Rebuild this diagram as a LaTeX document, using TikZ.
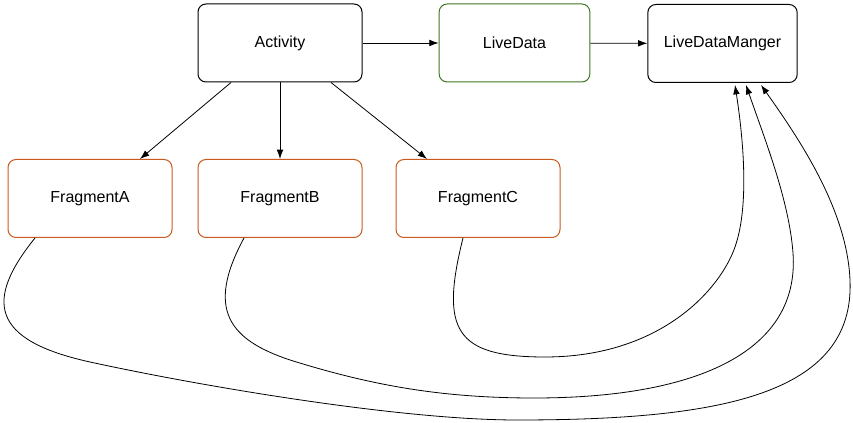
\documentclass[tikz,border=0pt]{standalone}
\usepackage{fontspec}
\setmainfont{Liberation Sans}
\usetikzlibrary{arrows.meta,calc}

\definecolor{fragorange}{RGB}{200,90,30}
\definecolor{datagreen}{RGB}{62,120,32}

\begin{document}
\begin{tikzpicture}[x=0.75pt,y=-0.75pt,
        box/.style={draw, rounded corners=6pt, line width=0.75pt,
            minimum width=123pt, minimum height=58.5pt,
            font=\fontsize{12}{14}\selectfont},
        link/.style={-{Latex[length=7pt,width=5pt]}, line width=0.6pt}]
        \useasboundingbox (0,0) rectangle (853,423);

        % top row
        \node[box] (activity) at (280,43) {Activity};
        \node[box, draw=datagreen, minimum width=113pt] (livedata) at (514.5,43) {LiveData};
        \node[box, minimum width=112pt] (manager) at (722.5,43.5) {LiveDataManger};

        % fragments
        \node[box, draw=fragorange] (fragA) at (90,198.5) {FragmentA};
        \node[box, draw=fragorange] (fragB) at (280,198.5) {FragmentB};
        \node[box, draw=fragorange] (fragC) at (478,198.5) {FragmentC};

        % straight arrows
        \draw[link] (activity) -- (livedata);
        \draw[link] (livedata) -- (manager);
        \draw[link] ($(activity.south)+(-49,0)$) -- ($(fragA.north)+(50,0)$);
        \draw[link] (activity.south) -- (fragB.north);
        \draw[link] ($(activity.south)+(51,0)$) -- ($(fragC.north)+(-51,0)$);

        % curved arrows back to the manager
        \coordinate (outA) at ($(fragA.south)+(-55,0)$);
        \coordinate (outB) at ($(fragB.south)+(-36,0)$);
        \coordinate (outC) at ($(fragC.south)+(-15,0)$);
        \coordinate (inA) at ($(manager.south)+(38.5,2)$);
        \coordinate (inB) at ($(manager.south)+(23.5,2)$);
        \coordinate (inC) at ($(manager.south)+(12.5,2)$);

        \draw[link] (outC) .. controls (440,330) and (455,357) .. (545,357)
            .. controls (660,357) and (720,290) .. (735,247)
            .. controls (748,210) and (745,150) .. (inC);
        \draw[link] (outB) .. controls (205,310) and (230,340) .. (290,360)
            .. controls (370,385) and (440,398) .. (534,398)
            .. controls (700,398) and (800,350) .. (793,253)
            .. controls (789,200) and (765,140) .. (inB);
        \draw[link] (outA) .. controls (-15,300) and (-10,340) .. (90,362)
            .. controls (200,386) and (400,420) .. (517,420)
            .. controls (720,420) and (855,395) .. (850,280)
            .. controls (847,210) and (800,140) .. (inA);
    \end{tikzpicture}
\end{document}
